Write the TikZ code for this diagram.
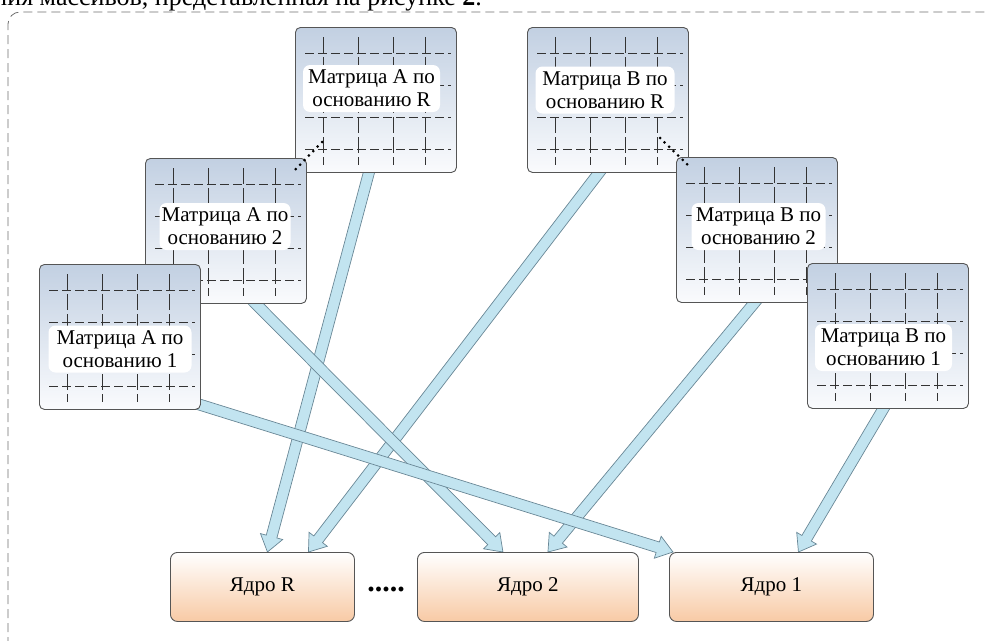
\documentclass[tikz,border=0pt]{standalone}
\usepackage{fontspec}
\setmainfont{Liberation Serif}
\usetikzlibrary{calc,backgrounds}
\definecolor{matTop}{RGB}{194,208,226}
\definecolor{matBot}{RGB}{250,251,253}
\definecolor{coreBot}{RGB}{248,202,165}
\definecolor{arrFill}{RGB}{194,228,240}
\definecolor{arrLine}{RGB}{105,135,150}
\definecolor{boxLine}{RGB}{85,85,85}
\definecolor{frameCol}{RGB}{110,110,110}
\tikzset{
 matbox/.style={draw=boxLine, line width=0.9pt, rounded corners=5pt, top color=matTop, bottom color=matBot,
   minimum width=161pt, minimum height=145pt, anchor=north west, inner sep=0pt},
 corebox/.style={draw=boxLine, line width=0.9pt, rounded corners=7pt, top color=white, bottom color=coreBot,
   minimum height=69pt, anchor=north west, inner sep=0pt, font=\fontsize{21}{23}\selectfont},
 lbl/.style={fill=white, rounded corners=7pt, align=center, inner sep=0pt, minimum height=47pt,
   font=\fontsize{21}{23}\selectfont},
 hgrid/.style={draw=black!80, line width=0.7pt, dash pattern=on 9pt off 4pt},
 vgrid/.style={draw=black!80, line width=0.7pt, dash pattern=on 16pt off 4pt, dash phase=-2pt},
 blk/.style={draw=arrLine, fill=arrFill, line width=0.7pt, line join=miter},
 dotline/.style={line width=3pt, dash pattern=on 0pt off 6.3pt, line cap=round},
 framestyle/.style={draw=frameCol, line width=0.8pt, dash pattern=on 9pt off 5pt, rounded corners=12pt}
}
% #1 name, #2 x, #3 y, #4 label x, #5 label y, #6 label width, #7 text
\newcommand\matbx[7]{%
 \node[matbox] (#1) at (#2,#3) {};
 \begin{scope}[shift={(#1.north west)}]
   \foreach \yy in {26,58,90,122} \draw[hgrid] (10,\yy) -- (156,\yy);
   \foreach \xx in {28,63,98,130} \draw[vgrid] (\xx,8) -- (\xx,138);
 \end{scope}
 \node[lbl, minimum width=#6pt] (#1l) at (#4,#5) {#7};
}
\newcommand\blkarrow[2]{%
 \path[blk] ($(#1)!5.5pt!90:(#2)$) -- ($(#2)!16pt!(#1)!5.5pt!90:(#2)$) -- ($(#2)!16pt!(#1)!11.5pt!90:(#2)$)
   -- (#2) -- ($(#2)!16pt!(#1)!11.5pt!-90:(#2)$) -- ($(#2)!16pt!(#1)!5.5pt!-90:(#2)$)
   -- ($(#1)!5.5pt!-90:(#2)$) -- cycle;
}
\begin{document}
\begin{tikzpicture}[x=1pt,y=-1pt]
\useasboundingbox (0,0) rectangle (987,640);

\node[anchor=base east, font=\fontsize{26}{26}\selectfont, inner sep=0pt] (toptext) at (482,5)
  {ния массивов, представленная на рисунке \textbf{2}.};

% cores
\node[corebox, minimum width=184pt] (cR) at (170,552) {Ядро R};
\node[corebox, minimum width=221pt] (c2) at (417,552) {Ядро 2};
\node[corebox, minimum width=204pt] (c1) at (669,552) {Ядро 1};
\node[anchor=base, font=\fontsize{30}{30}\selectfont\bfseries, inner sep=0pt] (dots) at (386,591) {.....};

% matrices
\matbx{mAR}{295}{27}{371.5}{88.5}{137}{Матрица A по\\основанию R}
\matbx{mA2}{145}{158}{225}{226.5}{131}{Матрица A по\\основанию 2}
\matbx{mA1}{39}{264}{120}{349}{143}{Матрица A по\\основанию 1}
\matbx{mBR}{527}{27}{605}{90}{139}{Матрица B по\\основанию R}
\matbx{mB2}{676}{157}{758.5}{226.5}{134}{Матрица B по\\основанию 2}
\matbx{mB1}{807}{263}{883.5}{347.5}{137}{Матрица B по\\основанию 1}

% dotted links between matrices
\coordinate (dA1) at (322,142);
\coordinate (dA2) at (294,171);
\coordinate (dB1) at (660,138);
\coordinate (dB2) at (689,166);
\draw[dotline] (dA1) -- (dA2);
\draw[dotline] (dB1) -- (dB2);

\begin{pgfonlayer}{background}
\draw[framestyle] (8,660) -- (8,12) -- (1000,12);
\coordinate (s1) at ([xshift=-5pt,yshift=8pt]mAR.south);
\coordinate (e1) at ([xshift=5pt]cR.north);
\coordinate (s2) at ([xshift=-3pt,yshift=8pt]mBR.south);
\coordinate (e2) at ([xshift=46pt]cR.north);
\coordinate (s3) at ([xshift=22pt,yshift=8pt]mA2.south);
\coordinate (e3) at ([xshift=-25pt]c2.north);
\coordinate (s4) at ([xshift=4pt,yshift=8pt]mB2.south);
\coordinate (e4) at ([xshift=20pt]c2.north);
\coordinate (s5) at ([xshift=-10pt,yshift=8pt]mA1.south east);
\coordinate (e5) at ([xshift=4pt]c1.north west);
\coordinate (s6) at ([yshift=8pt]mB1.south);
\coordinate (e6) at ([xshift=27pt]c1.north);
\blkarrow{s1}{e1}
\blkarrow{s2}{e2}
\blkarrow{s3}{e3}
\blkarrow{s4}{e4}
\blkarrow{s5}{e5}
\blkarrow{s6}{e6}
\end{pgfonlayer}
\end{tikzpicture}
\end{document}
